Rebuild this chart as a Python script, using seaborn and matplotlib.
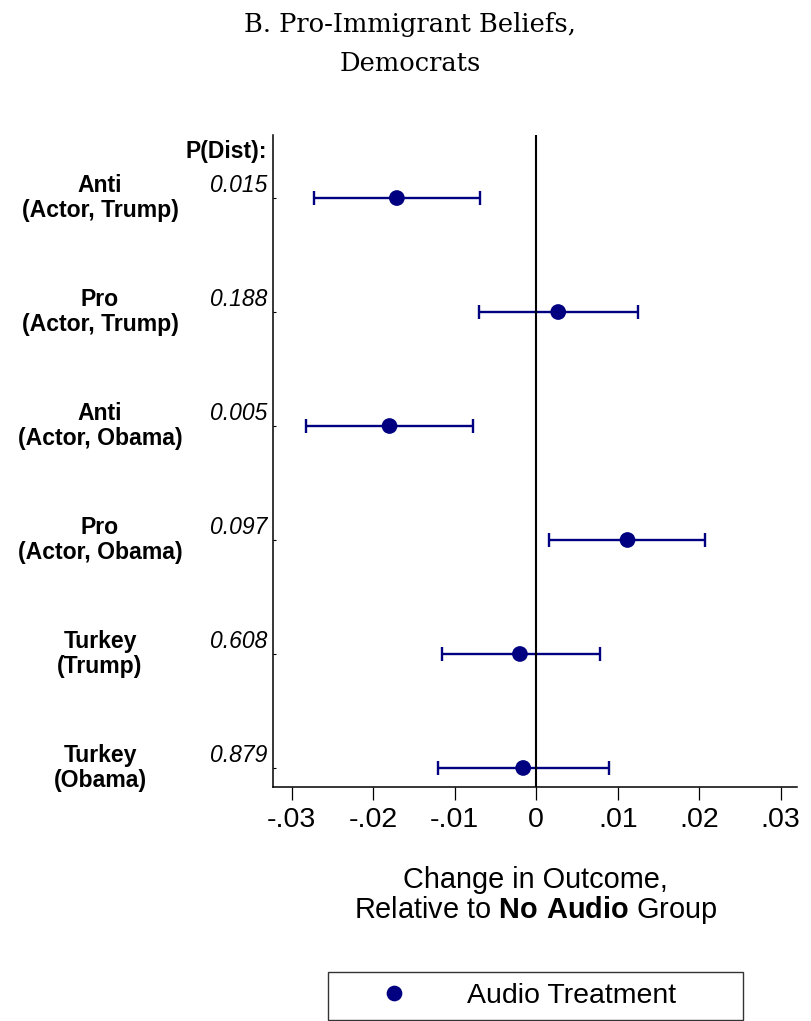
import numpy as np
import pandas as pd
import matplotlib
matplotlib.use("Agg")
import matplotlib.pyplot as plt
import matplotlib.transforms as mtransforms
from matplotlib.lines import Line2D
import seaborn as sns

# ---------------- data ----------------
row_labels = ["Anti\n(Actor, Trump)", "Pro\n(Actor, Trump)",
              "Anti\n(Actor, Obama)", "Pro\n(Actor, Obama)",
              "Turkey\n(Trump)", "Turkey\n(Obama)"]
p_dist = ["0.015", "0.188", "0.005", "0.097", "0.608", "0.879"]
estimate = [-0.0171, 0.0027, -0.0180, 0.0112, -0.0020, -0.0016]
ci_low = [-0.0273, -0.0070, -0.0283, 0.0016, -0.0116, -0.0120]
ci_high = [-0.0069, 0.0125, -0.0077, 0.0207, 0.0078, 0.0089]
tick_values = [-0.03, -0.02, -0.01, 0, 0.01, 0.02, 0.03]
tick_labels = ["-.03", "-.02", "-.01", "0", ".01", ".02", ".03"]
title_lines = ["B. Pro-Immigrant Beliefs,", "Democrats"]
legend_label = "Audio Treatment"

df = pd.DataFrame({"label": row_labels, "p": p_dist, "est": estimate,
                   "lo": ci_low, "hi": ci_high})
df["row"] = np.arange(len(df))

NAVY = "#000080"
W, H = 812, 1021

sns.set_theme(style="white")
plt.rcParams["font.family"] = ["Liberation Sans", "DejaVu Sans"]
plt.rcParams["mathtext.fontset"] = "custom"
plt.rcParams["mathtext.rm"] = "Liberation Sans"
plt.rcParams["mathtext.bf"] = "Liberation Sans:bold"
for k in ["text.color", "axes.labelcolor", "xtick.color", "ytick.color",
          "axes.edgecolor"]:
    plt.rcParams[k] = "black"

fig = plt.figure(figsize=(W / 100, H / 100), dpi=100)
left, right, top, bottom = 273, 797, 135, 787
ax = fig.add_axes([left / W, 1 - bottom / H, (right - left) / W, (bottom - top) / H])

# CIs
ax.errorbar(df["est"], df["row"],
            xerr=[df["est"] - df["lo"], df["hi"] - df["est"]],
            fmt="none", ecolor=NAVY, elinewidth=1.7, capsize=5.2, capthick=1.7,
            zorder=2)
ax.axvline(0, color="black", lw=1.5, zorder=3)
sns.scatterplot(data=df, x="est", y="row", s=128, color=NAVY, edgecolor="none",
                ax=ax, zorder=4, legend=False)

ax.set_xlim(-0.0323, 0.0320)
ax.set_ylim(5.167, -0.553)
ax.set_xticks(tick_values)
ax.set_xticklabels(tick_labels, fontsize=20.5, color="black")
ax.set_yticks(df["row"])
ax.set_yticklabels([])
ax.tick_params(axis="x", direction="out", length=9, width=0.9, pad=5.5,
               color="black", bottom=True)
ax.tick_params(axis="y", direction="in", length=2.5, width=0.8, color="black",
               left=True)
for s in ["top", "right"]:
    ax.spines[s].set_visible(False)
for s in ["left", "bottom"]:
    ax.spines[s].set_color("black")
    ax.spines[s].set_linewidth(1.1)

ax.set_xlabel("Change in Outcome,\nRelative to $\\bf{No\\ Audio}$ Group",
              fontsize=20.8, linespacing=1.0, color="black")
ax.xaxis.set_label_coords((535.5 - left) / (right - left),
                          -(866 - bottom) / (bottom - top))
ax.set_ylabel("")

# row labels and p-values
trans = mtransforms.blended_transform_factory(fig.transFigure, ax.transData)
for _, r in df.iterrows():
    ax.text(100 / W, r["row"], r["label"], transform=trans, ha="center",
            va="center", multialignment="center", fontsize=16.6,
            fontweight="bold", linespacing=1.1, color="black")
    ax.text(267 / W, r["row"] - 0.11, r["p"], transform=trans, ha="right",
            va="center", fontsize=16.5, fontstyle="italic", color="black")
ax.text(267 / W, -0.406, "P(Dist):", transform=trans, ha="right", va="center",
        fontsize=16.5, fontweight="bold", color="black")

# title
fig.text(410 / W, 1 - 32 / H, title_lines[0], ha="center", va="baseline",
         fontsize=18.5, family="DejaVu Serif", color="black")
fig.text(410 / W, 1 - 71 / H, title_lines[1], ha="center", va="baseline",
         fontsize=18.5, family="DejaVu Serif", color="black")

# legend
handle = Line2D([], [], marker="o", ls="none", color=NAVY, markersize=11.3,
                markeredgewidth=0)
leg = fig.legend(handles=[handle], labels=[legend_label],
                 loc="lower left",
                 bbox_to_anchor=(328 / W, 1 - 1020 / H, 415 / W, 52 / H),
                 mode="expand", borderaxespad=0, fontsize=20.5,
                 frameon=True, fancybox=False, edgecolor="black",
                 borderpad=0.38, handlelength=3.9, handletextpad=0.6)
leg.get_frame().set_linewidth(1.0)
for t in leg.get_texts():
    t.set_color("black")

fig.savefig("out.png", dpi=100, facecolor="white")
